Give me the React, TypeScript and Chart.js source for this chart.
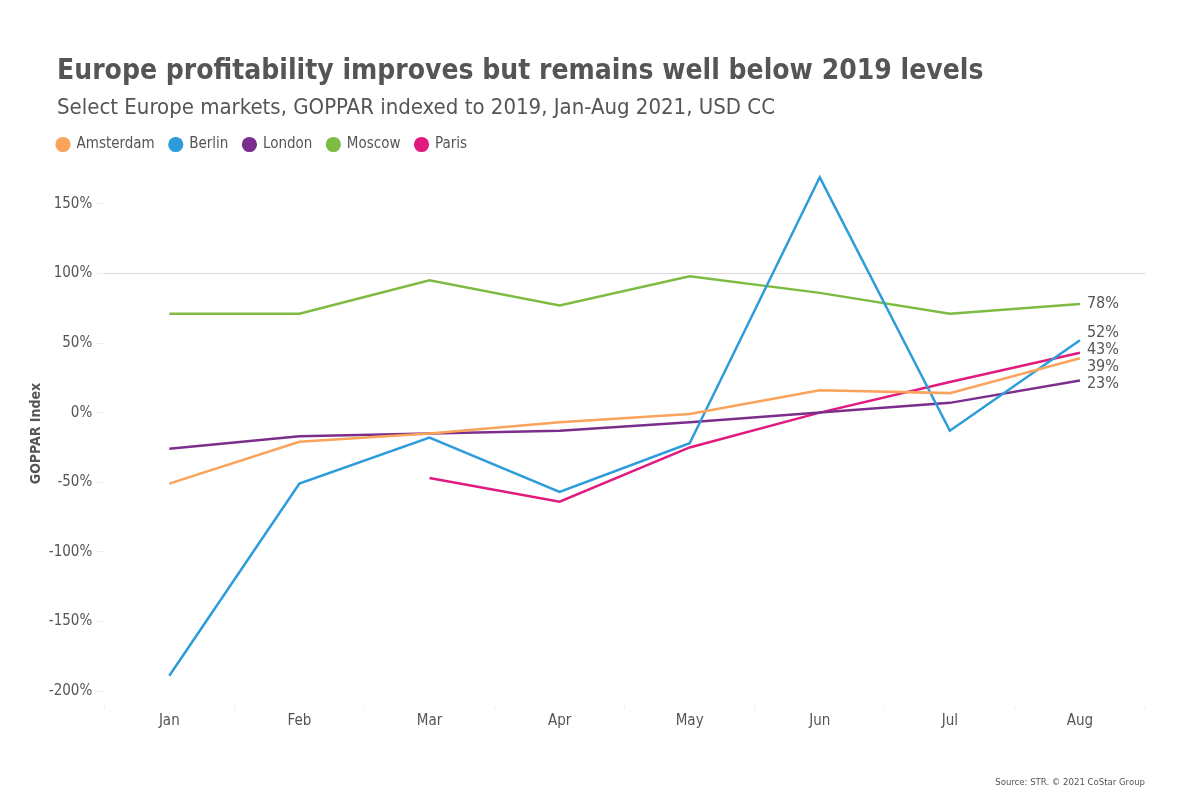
import React, { useEffect, useRef } from "react";
import { Chart, registerables } from "chart.js";

Chart.register(...registerables);

const FONT = "'DejaVu Sans Condensed', 'Liberation Sans Narrow', sans-serif";
const TEXT = "#555555";

const months = ["Jan", "Feb", "Mar", "Apr", "May", "Jun", "Jul", "Aug"];
const amsterdam = [-51, -21, -15, -7, -1, 16, 14, 39];
const berlin = [-189, -51, -18, -57, -22, 169, -13, 52];
const london = [-26, -17, -15, -13, -7, 0, 7, 23];
const moscow = [71, 71, 95, 77, 98, 86, 71, 78];
const paris = [null, null, -47, -64, -25, 0, 22, 43];
const yTickValues = [150, 100, 50, 0, -50, -100, -150, -200];

const seriesNames = ["Amsterdam", "Berlin", "London", "Moscow", "Paris"];
const seriesColors = ["#F9A35B", "#2D9CDB", "#7B2E8C", "#7DBB42", "#E01A7F"];
const seriesValues = [amsterdam, berlin, london, moscow, paris];

const LEGEND_PAD = 15;

const legendShift = {
  id: "legendShift",
  afterLayout(chart: any) {
    const lg = chart.legend;
    if (!lg) return;
    const dx = 57 - LEGEND_PAD - lg.left;
    lg.left += dx;
    lg.right += dx;
    if (lg.legendHitBoxes) lg.legendHitBoxes.forEach((b: any) => (b.left += dx));
  },
};

const endLabels = {
  id: "endLabels",
  afterDatasetsDraw(chart: any) {
    const ctx = chart.ctx;
    const items: { y: number; x: number; text: string }[] = [];
    chart.data.datasets.forEach((ds: any, i: number) => {
      const meta = chart.getDatasetMeta(i);
      const last = meta.data[meta.data.length - 1];
      const v = ds.data[ds.data.length - 1];
      if (!last || v == null) return;
      items.push({ x: last.x, y: last.y, text: Math.round(v) + "%" });
    });
    items.sort((a, b) => a.y - b.y);
    const gap = 17;
    let clusters = items.map((it) => ({ items: [it], top: it.y }));
    let changed = true;
    while (changed) {
      changed = false;
      for (let i = 1; i < clusters.length; i++) {
        const prev = clusters[i - 1];
        const cur = clusters[i];
        const prevBottom = prev.top + (prev.items.length - 1) * gap;
        if (cur.top < prevBottom + gap) {
          const merged = prev.items.concat(cur.items);
          const mean = merged.reduce((s, it) => s + it.y, 0) / merged.length;
          const top = mean - ((merged.length - 1) * gap) / 2;
          clusters.splice(i - 1, 2, { items: merged, top });
          changed = true;
          break;
        }
      }
    }
    ctx.save();
    ctx.font = `16px ${FONT}`;
    ctx.fillStyle = TEXT;
    ctx.textAlign = "left";
    ctx.textBaseline = "middle";
    clusters.forEach((c) => {
      c.items.forEach((it, k) => {
        ctx.fillText(it.text, it.x + 7, c.top + k * gap);
      });
    });
    ctx.restore();
  },
};

export default function App() {
  const ref = useRef<HTMLCanvasElement>(null);
  useEffect(() => {
    if (!ref.current) return;
    const chart = new Chart(ref.current, {
      type: "line",
      data: {
        labels: months,
        datasets: seriesNames.map((name, i) => ({
          label: name,
          data: seriesValues[i],
          borderColor: seriesColors[i],
          backgroundColor: seriesColors[i],
          borderWidth: 2.5,
          pointRadius: 0,
          pointHoverRadius: 0,
          tension: 0,
          spanGaps: false,
        })),
      },
      options: {
        responsive: false,
        animation: false,
        devicePixelRatio: 1,
        layout: { padding: { top: 122, left: 28, right: 55, bottom: 66 } },
        plugins: {
          title: { display: false },
          tooltip: { enabled: false },
          legend: {
            display: true,
            position: "top",
            align: "start",
            labels: {
              usePointStyle: true,
              pointStyle: "circle",
              boxWidth: 12,
              boxHeight: 9,
              padding: LEGEND_PAD,
              color: TEXT,
              font: { family: FONT, size: 15 },
            },
          },
        },
        scales: {
          x: {
            offset: true,
            grid: {
              offset: true,
              drawOnChartArea: false,
              color: "#eeeeee",
              tickLength: 4,
            },
            border: { display: false },
            ticks: { color: TEXT, font: { family: FONT, size: 15 }, padding: 3 },
          },
          y: {
            min: -210,
            max: 180,
            afterBuildTicks: (scale: any) => {
              scale.ticks = yTickValues.map((v) => ({ value: v }));
            },
            border: { display: false },
            grid: {
              color: (c: any) => (c.tick && c.tick.value === 100 ? "#d9d9d9" : "rgba(0,0,0,0)"),
              tickColor: "#eeeeee",
              tickLength: 8,
              lineWidth: 1,
            },
            ticks: {
              color: TEXT,
              font: { family: FONT, size: 15 },
              padding: 4,
              callback: (v: any) => v + "%",
            },
            title: {
              display: true,
              text: "GOPPAR Index",
              color: TEXT,
              font: { family: FONT, size: 14, weight: "bold" },
              padding: { top: 0, bottom: 0 },
            },
          },
        },
      },
      plugins: [legendShift, endLabels],
    });
    return () => chart.destroy();
  }, []);

  return (
    <div
      style={{
        position: "absolute",
        left: 0,
        top: 0,
        width: 1200,
        height: 799,
        background: "#ffffff",
        fontFamily: FONT,
        color: TEXT,
        overflow: "hidden",
      }}
    >
      <canvas ref={ref} width={1200} height={799} style={{ position: "absolute", left: 0, top: 0 }} />
      <div
        style={{
          position: "absolute",
          left: 57,
          top: 52,
          fontSize: 28,
          fontWeight: 700,
          lineHeight: "36px",
          whiteSpace: "nowrap",
        }}
      >
        Europe profitability improves but remains well below 2019 levels
      </div>
      <div
        style={{
          position: "absolute",
          left: 57,
          top: 93,
          fontSize: 22,
          lineHeight: "28px",
          whiteSpace: "nowrap",
        }}
      >
        Select Europe markets, GOPPAR indexed to 2019, Jan-Aug 2021, USD CC
      </div>
      <div
        style={{
          position: "absolute",
          right: 55,
          top: 775,
          fontSize: 9.5,
          lineHeight: "14px",
          whiteSpace: "nowrap",
        }}
      >
        Source: STR. © 2021 CoStar Group
      </div>
    </div>
  );
}
